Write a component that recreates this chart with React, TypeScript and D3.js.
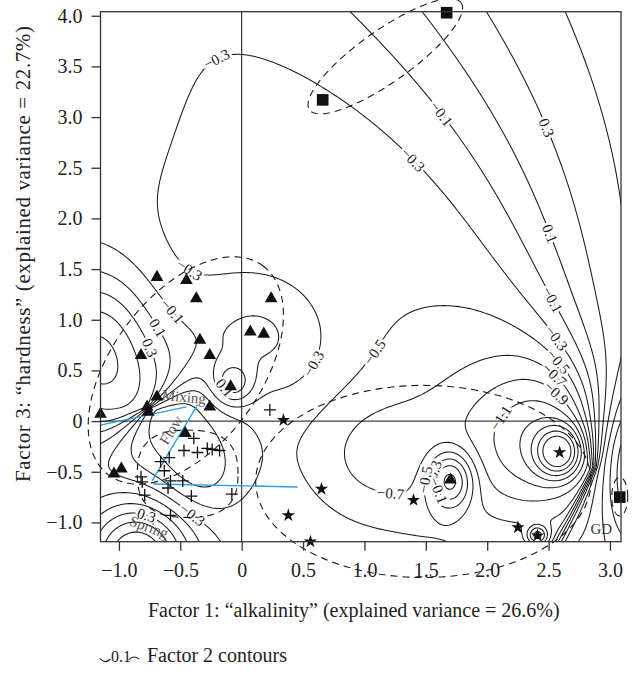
import React, { useEffect, useRef } from 'react';
import * as d3 from 'd3';

// Factor 1 (x) / Factor 3 (y) scores of the samples, by group
const triangles: [number, number][] = [
  [-0.69, 1.42], [-0.45, 1.39], [-0.37, 1.21], [0.24, 1.21], [0.07, 0.88], [0.18, 0.86],
  [-0.34, 0.80], [-0.26, 0.65], [-0.82, 0.65], [-0.09, 0.34], [-0.69, 0.24], [-0.77, 0.14],
  [-0.76, 0.09], [-0.26, 0.14], [-1.15, 0.07], [-0.46, -0.12], [-1.04, -0.52], [-0.98, -0.47],
  [1.70, -0.58],
];
const squares: [number, number][] = [[0.66, 3.17], [1.67, 4.03], [3.08, -0.75]];
const stars: [number, number][] = [
  [0.34, 0.01], [0.65, -0.67], [1.40, -0.78], [2.59, -0.31], [2.25, -1.05], [2.41, -1.13],
  [0.56, -1.19], [0.38, -0.93],
];
const crosses: [number, number][] = [
  [0.23, 0.11], [-0.39, -0.17], [-0.47, -0.29], [-0.36, -0.31], [-0.28, -0.27], [-0.24, -0.28],
  [-0.18, -0.29], [-0.59, -0.36], [-0.66, -0.40], [-0.63, -0.49], [-0.82, -0.55], [-0.81, -0.60],
  [-0.58, -0.59], [-0.48, -0.59], [-0.60, -0.66], [-0.79, -0.73], [-0.41, -0.74], [-0.08, -0.72],
  [-0.58, -0.93],
];

// group ellipses: centre + two conjugate semi-axes (data units)
const ellipseCenters: [number, number][] = [[1.17, 3.60], [-0.455, 0.50], [-0.44, -0.52], [1.48, -0.595], [3.08, -0.745]];
const ellipseAxisU: [number, number][] = [[0.618, 0.528], [0.628, 1.033], [0.41, 0], [1.366, 0], [0.065, 0]];
const ellipseAxisV: [number, number][] = [[0.1215, -0.21], [0.488, -0.437], [0, 0.43], [0, 0.948], [0, 0.19]];
const ellipseShape = [2, 2, 2.6, 2, 2];

// mixing model (blue)
const mixingLines: [number, number][][] = [
  [[-1.15, -0.04], [-0.45, 0.14]],
  [[-0.36, 0.16], [-0.73, -0.59]],
  [[-0.72, -0.62], [0.455, -0.65]],
];

const xTicks = [-1, -0.5, 0, 0.5, 1, 1.5, 2, 2.5, 3];
const yTicks = [-1, -0.5, 0, 0.5, 1, 1.5, 2, 2.5, 3, 3.5, 4];
const contourLevels = [-1.9, -1.7, -1.5, -1.3, -1.1, -0.9, -0.7, -0.5, -0.3, -0.1, 0.1, 0.3, 0.5, 0.7, 0.9, 1.1, 1.3];

// Factor 2 surface: a level, gaussian terms, two pinch ramps
const surfaceBase = -0.28;
const bumpAmp = [-0.20, -0.45, -0.55, -1.1, 0.95, -0.8, -0.3, 0.6, 0.4, 0.9, -0.3, 1.3, 0.9, 0.13];
const bumpX = [0.9, 2.1, 2.5, 2.59, 1.70, 2.41, 1.1, -0.08, 0.15, -1.2, -0.35, -0.85, 3.2, -1.45];
const bumpY = [0.8, -0.2, -0.2, -0.31, -0.58, -1.13, -0.35, 0.36, 0.8, 0.75, -0.55, -1.35, -0.45, 3.0];
const bumpSx = [1.4, 0.55, 0.35, 0.13, 0.13, 0.06, 0.35, 0.12, 0.4, 0.35, 0.25, 0.3, 0.2, 0.6];
const bumpSy = [1.8, 0.7, 0.5, 0.17, 0.2, 0.07, 0.4, 0.15, 0.45, 0.55, 0.3, 0.4, 0.5, 1.3];

// right-hand ramp (fan above the pinch at the apex, bundle below it)
const rampAmp = 0.95;
const rampApex: [number, number] = [2.88, -0.45];
const rampShiftUp = [-0.032, -0.055];
const rampWidthUp = 0.221;
const rampShiftDown = 0.4;
const rampWidthDown = 0.04;

// local pinch at the mixing point: apex, direction of the high side (deg), amplitude, opening, reach
const pinchX = [-0.76];
const pinchY = [0.13];
const pinchDir = [135];
const pinchAmp = [1.0];
const pinchOpen = [0.35];
const pinchReach = [0.5];

// contour labels: level and where it sits
const labelLevels = [-0.3, -0.1, -0.3, 0.3, 0.1, -0.1, -0.3, -0.5, -0.7, -0.9, -0.3, -0.5, -1.1, -0.3, -0.5, -0.7, -0.1, -0.3, -0.1, 0.1, 0.3, 0.1, -0.3, 0.3];
const labelX = [-0.2, 1.64, 1.35, 2.59, 2.58, 2.58, 2.55, 2.58, 2.51, 2.53, 0.57, 1.06, 2.16, 1.37, 1.27, 1.21, 1.56, -0.54, -0.58, -0.61, -0.61, -0.22, -0.24, -0.75];
const labelY = [3.56, 3.04, 2.53, 2.94, 1.88, 1.22, 0.8, 0.57, 0.40, 0.24, 0.58, 0.70, -0.02, -0.45, -0.55, -0.73, -0.71, 1.27, 1.08, 0.97, 0.80, 0.24, -0.66, -0.86];

const notes = [
  { text: 'Mixing', x: -0.47, y: 0.24, rot: 5 },
  { text: 'Flow', x: -0.576, y: -0.087, rot: -58 },
  { text: 'Spring', x: -0.755, y: -1.044, rot: 20 },
];

const serif = '"Liberation Serif", "Times New Roman", serif';

function erf(v: number) {
  const s = v < 0 ? -1 : 1;
  const a = Math.abs(v);
  const t = 1 / (1 + 0.3275911 * a);
  const p = ((((1.061405429 * t - 1.453152027) * t + 1.421413741) * t - 0.284496736) * t + 0.254829592) * t;
  return s * (1 - p * Math.exp(-a * a));
}
const cdf = (u: number) => 0.5 * (1 + erf(u / Math.SQRT2));

function surface(xd: number, yd: number) {
  let v = surfaceBase;
  for (let k = 0; k < bumpAmp.length; k++) {
    const dx = (xd - bumpX[k]) / bumpSx[k];
    const dy = (yd - bumpY[k]) / bumpSy[k];
    v += bumpAmp[k] * Math.exp(-0.5 * (dx * dx + dy * dy));
  }
  const dy = yd - rampApex[1];
  let xc, w;
  if (dy >= 0) {
    xc = rampApex[0] + rampShiftUp[0] * dy + rampShiftUp[1] * dy * dy;
    w = 0.02 + rampWidthUp * dy;
  } else {
    xc = rampApex[0] + rampShiftDown * dy;
    w = 0.02 - rampWidthDown * dy;
  }
  v += rampAmp * cdf((xd - xc) / w);
  for (let k = 0; k < pinchX.length; k++) {
    const ddx = xd - pinchX[k], ddy = yd - pinchY[k];
    const a = (pinchDir[k] * Math.PI) / 180;
    const across = ddx * Math.cos(a) + ddy * Math.sin(a);
    const along = -ddx * Math.sin(a) + ddy * Math.cos(a);
    const ww = 0.01 + pinchOpen[k] * Math.abs(along);
    const r2 = ddx * ddx + ddy * ddy;
    v += pinchAmp[k] * (cdf(across / ww) - 0.5) * Math.exp(-r2 / (2 * pinchReach[k] ** 2));
  }
  return v;
}

const fmt = (v: number) => (v === 0 ? '0' : (v < 0 ? '\u2212' : '') + Math.abs(v).toFixed(1));

export default function App() {
  const ref = useRef<SVGSVGElement>(null);

  useEffect(() => {
    const svg = d3.select(ref.current);
    svg.selectAll('*').remove();

    const X0 = 100.5, X1 = 621, Y0 = 11.7, Y1 = 541.7;
    const x = d3.scaleLinear().domain([-1.15, 3.09]).range([X0, X1]);
    const y = d3.scaleLinear().domain([-1.19, 4.04]).range([Y1, Y0]);

    svg.append('defs').append('clipPath').attr('id', 'plot')
      .append('rect').attr('x', X0).attr('y', Y0).attr('width', X1 - X0).attr('height', Y1 - Y0);

    // surface grid
    const step = 2;
    const gx0 = X0 - 4, gy0 = Y0 - 4;
    const nx = Math.ceil((X1 - X0 + 8) / step) + 1;
    const ny = Math.ceil((Y1 - Y0 + 8) / step) + 1;
    const values = new Array(nx * ny);
    for (let j = 0; j < ny; j++) {
      for (let i = 0; i < nx; i++) {
        values[j * nx + i] = surface(x.invert(gx0 + i * step), y.invert(gy0 + j * step));
      }
    }
    const toPx = (c: number[]) => [gx0 + (c[0] - 0.5) * step, gy0 + (c[1] - 0.5) * step];
    const gen = d3.contours().size([nx, ny]).thresholds(contourLevels);
    const path = d3.geoPath(d3.geoTransform({
      point(px: number, py: number) {
        const p = toPx([px, py]);
        (this as any).stream.point(p[0], p[1]);
      },
    }));

    const cg = svg.append('g').attr('clip-path', 'url(#plot)');
    cg.selectAll('path.iso').data(gen(values)).join('path')
      .attr('class', 'iso')
      .attr('d', (d: any) => path(d))
      .attr('fill', 'none')
      .attr('stroke', '#1a1a1a')
      .attr('stroke-width', 1.05);

    // contour labels, snapped to the computed lines
    const lg = svg.append('g').attr('font-family', serif).attr('font-size', 15).attr('fill', '#1a1a1a');
    labelLevels.forEach((lev, li) => {
      const c = gen.contour(values, lev);
      const tx = x(labelX[li]), ty = y(labelY[li]);
      let best: any = null;
      c.coordinates.forEach((poly: any) => poly.forEach((ring: any) => {
        const pts = ring.map(toPx);
        pts.forEach((p: number[], k: number) => {
          if (p[0] < X0 + 3 || p[0] > X1 - 3 || p[1] < Y0 + 3 || p[1] > Y1 - 3) return;
          const dd = (p[0] - tx) ** 2 + (p[1] - ty) ** 2;
          if (!best || dd < best.dd) best = { dd, pts, k };
        });
      }));
      let px = tx, py = ty, ang = 0;
      if (best) {
        const n = best.pts.length;
        const a = best.pts[(best.k - 4 + n) % n], b = best.pts[(best.k + 4) % n];
        px = best.pts[best.k][0];
        py = best.pts[best.k][1];
        ang = (Math.atan2(b[1] - a[1], b[0] - a[0]) * 180) / Math.PI;
        if (ang > 90) ang -= 180;
        if (ang < -90) ang += 180;
      }
      lg.append('text')
        .attr('transform', `translate(${px},${py}) rotate(${ang})`)
        .attr('text-anchor', 'middle')
        .attr('dy', '0.35em')
        .attr('stroke', '#fff')
        .attr('stroke-width', 5)
        .attr('paint-order', 'stroke')
        .text(fmt(lev));
    });

    // zero lines
    svg.append('line').attr('x1', x(0)).attr('x2', x(0)).attr('y1', Y0).attr('y2', Y1)
      .attr('stroke', '#111').attr('stroke-width', 1);
    svg.append('line').attr('x1', X0).attr('x2', X1).attr('y1', y(0)).attr('y2', y(0))
      .attr('stroke', '#111').attr('stroke-width', 1);

    // ellipses
    const line = d3.line();
    ellipseCenters.forEach((c, e) => {
      const u = ellipseAxisU[e], v = ellipseAxisV[e], n = ellipseShape[e];
      const pts: [number, number][] = d3.range(0, 361, 3).map((deg) => {
        const t = (deg * Math.PI) / 180;
        const ct = Math.cos(t), st = Math.sin(t);
        const cc = Math.sign(ct) * Math.pow(Math.abs(ct), 2 / n);
        const ss = Math.sign(st) * Math.pow(Math.abs(st), 2 / n);
        return [x(c[0] + u[0] * cc + v[0] * ss), y(c[1] + u[1] * cc + v[1] * ss)];
      });
      svg.append('path').attr('d', line(pts))
        .attr('fill', 'none').attr('stroke', '#1a1a1a').attr('stroke-width', 1.1)
        .attr('stroke-dasharray', '7,5');
    });

    // mixing lines
    mixingLines.forEach((l) => {
      svg.append('line')
        .attr('x1', x(l[0][0])).attr('y1', y(l[0][1]))
        .attr('x2', x(l[1][0])).attr('y2', y(l[1][1]))
        .attr('stroke', '#2aa0dc').attr('stroke-width', 1.4);
    });

    // notes
    notes.forEach((n) => {
      svg.append('text')
        .attr('transform', `translate(${x(n.x)},${y(n.y)}) rotate(${n.rot})`)
        .attr('text-anchor', 'middle').attr('dy', '0.35em')
        .attr('font-family', serif).attr('font-size', 15).attr('fill', '#555')
        .text(n.text);
    });
    svg.append('text').attr('x', x(2.93)).attr('y', y(-1.06)).attr('dy', '0.35em')
      .attr('text-anchor', 'middle').attr('font-family', serif).attr('font-size', 15).attr('fill', '#333')
      .text('GD');

    // markers
    const tri = d3.symbol().type(d3.symbolTriangle).size(70)();
    const sq = d3.symbol().type(d3.symbolSquare).size(135)();
    const st = d3.symbol().type(d3.symbolStar).size(55)();
    const mg = svg.append('g').attr('fill', '#111');
    triangles.forEach((p) => mg.append('path').attr('d', tri).attr('transform', `translate(${x(p[0])},${y(p[1])})`));
    squares.forEach((p) => mg.append('path').attr('d', sq).attr('transform', `translate(${x(p[0])},${y(p[1])})`));
    stars.forEach((p) => mg.append('path').attr('d', st).attr('transform', `translate(${x(p[0])},${y(p[1])})`));
    crosses.forEach((p) => mg.append('path').attr('d', 'M-6,0H6M0,-6V6')
      .attr('transform', `translate(${x(p[0])},${y(p[1])})`)
      .attr('stroke', '#111').attr('stroke-width', 1.3).attr('fill', 'none'));

    // frame and axes
    svg.append('rect').attr('x', X0).attr('y', Y0).attr('width', X1 - X0).attr('height', Y1 - Y0)
      .attr('fill', 'none').attr('stroke', '#333').attr('stroke-width', 1.3);
    const ax = svg.append('g').attr('transform', `translate(0,${Y1})`)
      .call(d3.axisBottom(x).tickValues(xTicks).tickFormat(fmt as any).tickSize(9).tickPadding(12));
    const ay = svg.append('g').attr('transform', `translate(${X0},0)`)
      .call(d3.axisLeft(y).tickValues(yTicks).tickFormat(fmt as any).tickSize(9).tickPadding(9));
    [ax, ay].forEach((g) => {
      g.select('.domain').remove();
      g.selectAll('line').attr('stroke', '#333').attr('stroke-width', 1.3);
      g.selectAll('text').attr('font-family', serif).attr('font-size', 20).attr('fill', '#222');
    });

    svg.append('text').attr('x', 148).attr('y', 617)
      .attr('font-family', serif).attr('font-size', 20).attr('fill', '#222')
      .text('Factor 1: \u201Calkalinity\u201D (explained variance = 26.6%)');
    svg.append('text').attr('transform', `translate(29.5,254) rotate(-90)`)
      .attr('text-anchor', 'middle')
      .attr('textLength', 456).attr('lengthAdjust', 'spacing')
      .attr('font-family', serif).attr('font-size', 21).attr('fill', '#222')
      .text('Factor 3: \u201Chardness\u201D (explained variance = 22.7%)');

    // legend
    svg.append('path').attr('d', 'M100,658.5 Q105,664.5 110.5,659 M128.5,660 Q133.5,654.5 139,659')
      .attr('fill', 'none').attr('stroke', '#222').attr('stroke-width', 1.1);
    svg.append('text').attr('x', 111).attr('y', 662).attr('font-family', serif).attr('font-size', 16)
      .attr('fill', '#222').text('0.1');
    svg.append('text').attr('x', 147).attr('y', 662).attr('font-family', serif).attr('font-size', 20)
      .attr('fill', '#222').text('Factor 2 contours');
  }, []);

  return (
    <svg ref={ref} width={638} height={673}
      style={{ position: 'absolute', left: 0, top: 0, background: '#fff' }} />
  );
}
